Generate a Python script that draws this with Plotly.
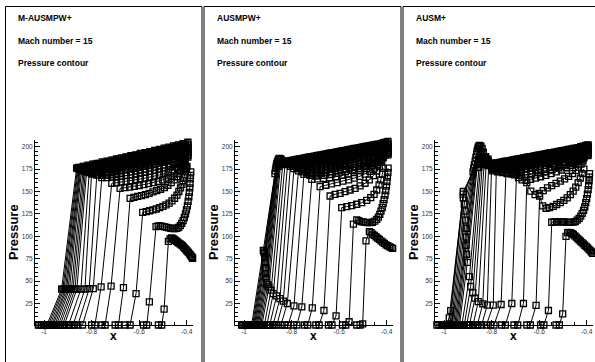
import plotly.graph_objects as go

# ---------------- data ----------------
# x stations of the post-shock band (two interleaved families of grid lines)
BAND_X = [-0.855, -0.835, -0.815, -0.795, -0.775, -0.755, -0.735, -0.715, -0.695, -0.675, -0.655, -0.635,
          -0.615, -0.595, -0.575, -0.555, -0.535, -0.515, -0.495, -0.475, -0.455, -0.435, -0.415, -0.395]
BAND_X2 = [-0.845, -0.825, -0.805, -0.785, -0.765, -0.745, -0.725, -0.705, -0.685, -0.665, -0.645, -0.625,
           -0.605, -0.585, -0.565, -0.545, -0.525, -0.505, -0.485, -0.465, -0.445, -0.425, -0.405]

# ---- M-AUSMPW+
MAUSMPW_HEAD_X = [
    [-1.024, -0.988, -0.926, -0.863], [-1.010, -0.975, -0.916, -0.856], [-0.996, -0.962, -0.905, -0.849],
    [-0.982, -0.948, -0.893, -0.842], [-0.966, -0.932, -0.878, -0.831], [-0.950, -0.915, -0.862, -0.821],
    [-0.932, -0.897, -0.845, -0.810], [-0.913, -0.878, -0.828, -0.800], [-0.893, -0.858, -0.810, -0.778],
    [-0.873, -0.838, -0.793, -0.757],
]
MAUSMPW_HEAD_P = [
    [1, 1, 41, 176], [1, 1, 41, 175.5], [1, 1, 41, 175], [1, 1, 41, 174], [1, 1, 41, 173],
    [1, 1, 41, 172], [1, 1, 41, 171], [1, 1, 41, 170], [1, 1, 41.5, 168.4], [1, 1, 41.5, 165.5],
]
MAUSMPW_BAND_P = [
    [177, 178, 179.5, 180.5, 181.5, 183, 184, 185, 186.5, 187.5, 188.5, 190, 191, 192.5, 193.5, 194.5, 196, 197, 198.5, 199.5, 201, 202, 203.5, 205],
    [176.5, 177.5, 178.5, 179.5, 181, 182, 183, 184.5, 185.5, 186.5, 188, 189, 190, 191.5, 192.5, 194, 195, 196.5, 197.5, 199, 200, 201.5, 203],
    [175.5, 176.5, 177.5, 178.5, 179.5, 180.5, 181.5, 183, 184, 185, 186, 187.5, 188.5, 189.5, 190.5, 192, 193, 194.5, 195.5, 197, 198, 199.5, 201],
    [174.5, 175, 176, 177, 178, 179, 180, 181, 182, 183, 184, 185, 186.5, 187.5, 188.5, 189.5, 191, 192, 193, 194.5, 196, 197.5, 199],
    [173.5, 174, 175, 175.5, 176.5, 177.5, 178.5, 179.5, 180.5, 181.5, 182.5, 184, 185, 186, 187, 188.5, 189.5, 191, 192.5, 194, 195.5, 197],
    [172, 172.5, 173, 173.5, 174.5, 175.5, 176.5, 177.5, 178.5, 179.5, 180.5, 181.5, 182.5, 183.5, 185, 186, 187, 188.5, 190, 191.5, 193, 195],
    [171, 171, 171.5, 172, 173, 174, 175, 176, 177, 178, 179, 180, 181, 182, 183.5, 184.5, 186, 187.5, 189, 191, 193.5],
    [169.5, 169.5, 170, 170.5, 171, 172, 173, 174, 175, 176, 177, 178, 179, 180, 181.5, 182.5, 184, 185.5, 187.5, 189.5, 192],
    [168, 168, 168.5, 169, 170, 171, 172, 173, 174, 175, 176, 177, 178.5, 179.5, 181, 182.5, 184.5, 187, 190.5],
    [165.5, 166, 166.5, 167, 168, 168.5, 169.5, 170.5, 171.5, 172.5, 173.5, 175, 176.5, 178, 180, 182, 184.5, 188.5],
]
MAUSMPW_MID_X = [
    [-1.017, -0.982, -0.921, -0.859], [-1.003, -0.968, -0.910, -0.852], [-0.989, -0.955, -0.899, -0.846],
    [-0.974, -0.940, -0.885, -0.836], [-0.958, -0.923, -0.870, -0.826],
]
MAUSMPW_MID_P = [[1, 1, 41, 176], [1, 1, 41, 175], [1, 1, 41, 174.5], [1, 1, 41, 173.5], [1, 1, 41, 172.5]]
MAUSMPW_MIDBAND_P = [
    [177, 178, 179, 180.5, 181.5, 182.5, 183.5, 185, 186, 187, 188.5, 189.5, 190.5, 192, 193, 194, 195.5, 196.5, 198, 199, 200.5, 201.5, 203],
    [176.5, 177.5, 178.5, 179.5, 180.5, 181.5, 182.5, 183.5, 185, 186, 187, 188, 189, 190, 191.5, 192.5, 193.5, 195, 196, 197.5, 199, 201],
    [175.5, 176, 177, 178, 179, 180, 181, 182, 183, 184, 185, 186, 187, 188, 189, 190, 191, 192.5, 193.5, 195, 197, 199],
    [174.5, 175, 176, 177, 178, 179, 180, 181, 182, 183, 184, 185, 186, 187, 188, 189, 190.5, 191.5, 193, 195, 197],
    [173, 173.5, 174.5, 175.5, 176.5, 177.5, 178.5, 179.5, 180.5, 181.5, 182.5, 183.5, 184.5, 185.5, 186.5, 187.5, 188.5, 190, 191.5, 193, 195],
]
MAUSMPW_TAIL_X = [
    [-0.800, -0.786, -0.760, -0.715, -0.695, -0.675, -0.655, -0.635, -0.615, -0.595, -0.575, -0.555, -0.535, -0.515, -0.496, -0.478, -0.461, -0.446, -0.433, -0.422, -0.413, -0.406],
    [-0.757, -0.743, -0.718, -0.680, -0.660, -0.640, -0.620, -0.600, -0.580, -0.560, -0.540, -0.520, -0.501, -0.483, -0.466, -0.451, -0.438, -0.427, -0.418, -0.410],
    [-0.701, -0.687, -0.666, -0.638, -0.622, -0.606, -0.590, -0.574, -0.558, -0.542, -0.526, -0.510, -0.494, -0.479, -0.465, -0.452, -0.441, -0.432, -0.424, -0.417, -0.411, -0.406],
    [-0.659, -0.638, -0.613, -0.585, -0.570, -0.556, -0.542, -0.528, -0.514, -0.500, -0.487, -0.474, -0.462, -0.451, -0.441, -0.433, -0.426, -0.420, -0.415, -0.411, -0.408, -0.405, -0.403, -0.401, -0.399],
    [-0.582, -0.568, -0.557, -0.529, -0.520, -0.511, -0.502, -0.493, -0.484, -0.475, -0.466, -0.457, -0.449, -0.441, -0.434, -0.427, -0.421, -0.415, -0.410, -0.405, -0.401, -0.397, -0.394, -0.391, -0.389, -0.387, -0.386, -0.385, -0.384, -0.383],
    [-0.519, -0.505, -0.495, -0.477, -0.470, -0.463, -0.458, -0.453, -0.448, -0.443, -0.438, -0.433, -0.428, -0.423, -0.418, -0.413, -0.408, -0.403, -0.398, -0.393, -0.388, -0.384, -0.380, -0.377, -0.375],
]
MAUSMPW_TAIL_P = [
    [1, 1, 43.6, 159.2, 159.8, 160.5, 161.2, 162, 163, 164, 165, 166, 167.2, 168.5, 170, 172, 174.5, 177.5, 180.5, 183.5, 186.5, 189],
    [1, 1, 44.3, 153.6, 154.3, 155, 155.8, 156.7, 157.7, 158.8, 160, 161.3, 163, 165, 167.5, 170.5, 174, 177.5, 181, 184],
    [1, 1, 42.8, 142.4, 143.5, 144.5, 145.5, 146.5, 148, 149.5, 151, 152.5, 154.5, 157, 160, 163, 166.5, 170, 173.5, 176.5, 179, 181],
    [1, 1, 36.1, 126.8, 127.5, 128.5, 129.5, 130.5, 132, 133.5, 135, 137, 139.5, 142.5, 146, 150, 154, 158, 162, 166, 169, 172, 174.5, 176.5, 178],
    [1, 1, 26.8, 110.9, 111.5, 111.5, 111, 110.5, 110, 109.5, 109, 108.5, 108.5, 109, 110, 112, 114.5, 117.5, 121, 125, 129.5, 134, 139, 144, 149, 154, 159, 164, 168, 172],
    [1, 1, 18.7, 94.4, 97, 98.1, 97.5, 96.5, 95.5, 94.5, 93.5, 92.5, 91.5, 90.5, 89.5, 88, 86.5, 85, 83.5, 82, 80.5, 79, 77.5, 76.5, 75.5],
]

# ---- AUSMPW+
AUSMPW_HEAD_X = [
    [-1.010, -0.968, -0.919, -0.870], [-1.000, -0.960, -0.914, -0.866], [-0.990, -0.952, -0.912, -0.862],
    [-0.980, -0.944, -0.909, -0.857], [-0.970, -0.935, -0.905, -0.851], [-0.960, -0.925, -0.895, -0.844],
    [-0.950, -0.915, -0.886, -0.836], [-0.940, -0.904, -0.877, -0.827], [-0.928, -0.892, -0.863, -0.817],
    [-0.914, -0.878, -0.849, -0.805], [-0.898, -0.862, -0.835, -0.790], [-0.880, -0.845, -0.818, -0.771],
]
AUSMPW_HEAD_P = [
    [1, 1, 84.4, 170], [1, 1, 80.7, 176], [1, 1, 71.4, 181], [1, 1, 58.4, 185], [1, 1, 48.4, 187],
    [1, 1, 43.6, 186], [1, 1, 39.9, 184], [1, 1, 36.1, 182], [1, 1, 33.5, 180], [1, 1, 30.5, 178],
    [1, 1, 27.6, 175.5], [1, 1, 25.0, 173],
]
AUSMPW_BAND_P = [
    [178, 182, 184, 185, 186, 187, 188, 189, 190, 191, 192, 193, 194, 195, 196, 197, 198, 199, 200, 201, 202, 203, 204.5, 206],
    [181, 182.5, 183.5, 184.5, 185.5, 186.5, 187.5, 188.5, 189.5, 190.5, 191.5, 192.5, 193.5, 194.5, 195.5, 196.5, 197.5, 198.5, 199.5, 200.5, 201.5, 202.5, 204],
    [182, 182, 182.5, 183.5, 184.5, 185.5, 186.5, 187.5, 188.5, 189.5, 190.5, 191.5, 192.5, 193.5, 194.5, 195.5, 196.5, 197.5, 198.5, 199.5, 200.5, 201.5, 202.5],
    [183, 181.5, 181, 181.5, 182.5, 183.5, 184.5, 185.5, 186.5, 187.5, 188.5, 189.5, 190.5, 191.5, 192.5, 193.5, 194.5, 195.5, 196.5, 197.5, 198.5, 199.5, 201],
    [183, 180.5, 180, 180.5, 181.5, 182.5, 183.5, 184.5, 185.5, 186.5, 187.5, 188.5, 189.5, 190.5, 191.5, 192.5, 193.5, 194.5, 195.5, 196.5, 197.5, 199],
    [184, 180, 178.5, 179, 180, 181, 182, 183, 184, 185, 186, 187, 188, 189, 190, 191, 192, 193, 194, 195, 196, 197.5],
    [181, 178, 177, 177.5, 178.5, 179.5, 180.5, 181.5, 182.5, 183.5, 184.5, 185.5, 186.5, 187.5, 188.5, 189.5, 190.5, 191.5, 192.5, 194, 196],
    [180, 177, 175.5, 175.5, 176.5, 177.5, 178.5, 179.5, 180.5, 181.5, 182.5, 183.5, 184.5, 185.5, 186.5, 187.5, 188.5, 189.5, 191, 193, 195],
    [176.5, 174.5, 174, 174.5, 175.5, 176.5, 177.5, 178.5, 179.5, 180.5, 181.5, 182.5, 183.5, 184.5, 185.5, 186.5, 188, 189.5, 191.5, 194],
    [175.5, 173, 172.5, 173, 174, 175, 176, 177, 178, 179, 180, 181, 182, 183, 184, 185, 186.5, 188, 190.5, 193],
    [172, 171, 171, 172, 173, 174, 175, 176, 177, 178, 179, 180, 181, 182, 183.5, 185, 187, 189.5, 192],
    [170.5, 169.5, 169.5, 170, 171, 172, 173, 174, 175, 176, 177, 178, 179.5, 181, 182.5, 184.5, 187.5, 191],
]
AUSMPW_MID_X = [
    [-1.005, -0.964, -0.916, -0.868], [-0.995, -0.956, -0.913, -0.864], [-0.985, -0.948, -0.910, -0.860],
    [-0.975, -0.940, -0.907, -0.854], [-0.965, -0.930, -0.900, -0.848],
]
AUSMPW_MID_P = [[1, 1, 82.5, 173], [1, 1, 76, 178.5], [1, 1, 65, 183], [1, 1, 53, 186], [1, 1, 46, 186.5]]
AUSMPW_MIDBAND_P = [
    [180, 183, 184.5, 185.5, 186.5, 187.5, 188.5, 189.5, 190.5, 191.5, 192.5, 193.5, 194.5, 195.5, 196.5, 197.5, 198.5, 199.5, 200.5, 201.5, 202.5, 203.5, 205],
    [182, 183, 184, 185, 186, 187, 188, 189, 190, 191, 192, 193, 194, 195, 196, 197, 198, 199, 200, 201, 202, 203],
    [182, 181.5, 182, 183, 184, 185, 186, 187, 188, 189, 190, 191, 192, 193, 194, 195, 196, 197, 198, 199, 200, 201.5],
    [181, 180.5, 181, 182, 183, 184, 185, 186, 187, 188, 189, 190, 191, 192, 193, 194, 195, 196, 197, 198, 200],
    [180, 179, 179.5, 180.5, 181.5, 182.5, 183.5, 184.5, 185.5, 186.5, 187.5, 188.5, 189.5, 190.5, 191.5, 192.5, 193.5, 194.5, 195.5, 196.5, 198],
]
AUSMPW_TAIL_X = [
    [-0.829, -0.815, -0.790, -0.748, -0.722, -0.694, -0.664, -0.634, -0.604, -0.574, -0.544, -0.514, -0.485, -0.459, -0.437, -0.420, -0.408],
    [-0.792, -0.778, -0.757, -0.715, -0.691, -0.666, -0.640, -0.614, -0.588, -0.562, -0.536, -0.510, -0.485, -0.462, -0.443, -0.428, -0.416],
    [-0.746, -0.732, -0.713, -0.680, -0.656, -0.632, -0.608, -0.584, -0.560, -0.536, -0.513, -0.491, -0.471, -0.453, -0.438, -0.426, -0.416],
    [-0.698, -0.684, -0.664, -0.638, -0.617, -0.596, -0.575, -0.554, -0.533, -0.512, -0.491, -0.473, -0.456, -0.442, -0.431, -0.421],
    [-0.645, -0.630, -0.613, -0.589, -0.568, -0.547, -0.526, -0.505, -0.484, -0.467, -0.453, -0.442, -0.432, -0.425, -0.418, -0.414],
    [-0.586, -0.572, -0.558, -0.540, -0.526, -0.517, -0.508, -0.499, -0.490, -0.480, -0.470, -0.460, -0.450, -0.442, -0.435, -0.429, -0.424, -0.419, -0.415, -0.411, -0.407, -0.404, -0.401, -0.399, -0.397, -0.395, -0.394],
    [-0.526, -0.512, -0.501, -0.487, -0.473, -0.466, -0.459, -0.452, -0.445, -0.438, -0.431, -0.424, -0.417, -0.410, -0.403, -0.396, -0.389, -0.382, -0.375],
]
AUSMPW_TAIL_P = [
    [1, 1, 22.4, 169.2, 168, 167.5, 168, 169, 170.5, 172, 173.5, 175.5, 178, 181, 184.5, 188, 190.5],
    [1, 1, 21.3, 163.6, 164, 164.5, 165.5, 166.5, 168, 169.5, 171, 173, 175.5, 178.5, 182, 185.5, 189],
    [1, 1, 20.1, 155.4, 157, 158.5, 160, 161.5, 163, 165, 167, 169.5, 172.5, 176, 180, 184, 188],
    [1, 1, 17.2, 145, 146.9, 148, 149.9, 151.7, 153.6, 156.2, 159.2, 162.9, 167.7, 172.9, 177.7, 182.5],
    [1, 1, 11.2, 132, 133.2, 134.3, 135.8, 137.6, 140.2, 143.2, 146.9, 151.7, 157.3, 162.9, 169.2, 175.9],
    [1, 1, 4.6, 113.5, 118.3, 117.5, 116.5, 116, 115.5, 115.3, 115.3, 115.7, 117, 119, 121.5, 124.5, 128, 132, 136.5, 141, 146, 151, 156, 161, 166, 171, 176],
    [1, 1, 2.3, 94.8, 105.2, 104, 102.5, 101, 99.5, 98, 96.5, 95, 93.5, 92, 90.5, 89.5, 88.5, 87.5, 86.5],
]

# ---- AUSM+
AUSM_HEAD_X = [
    [-1.030, -0.990, -0.978, -0.972, -0.919, -0.878], [-1.012, -0.975, -0.919, -0.872], [-1.002, -0.965, -0.912, -0.866],
    [-0.992, -0.955, -0.907, -0.861], [-0.982, -0.945, -0.907, -0.856], [-0.972, -0.935, -0.902, -0.851],
    [-0.962, -0.925, -0.893, -0.845], [-0.952, -0.915, -0.888, -0.840], [-0.942, -0.905, -0.879, -0.835],
    [-0.930, -0.893, -0.870, -0.829], [-0.915, -0.878, -0.856, -0.822], [-0.897, -0.860, -0.837, -0.812],
    [-0.878, -0.842, -0.818, -0.800], [-0.858, -0.822, -0.793, -0.780],
]
AUSM_HEAD_P = [
    [1, 1, 9, 17, 150, 172], [1, 1, 143, 180], [1, 1, 128, 188], [1, 1, 109, 195], [1, 1, 90, 199.5],
    [1, 1, 71, 201.5], [1, 1, 55, 200.5], [1, 1, 44, 198], [1, 1, 37, 194], [1, 1, 31, 189],
    [1, 1, 27, 184], [1, 1, 24.6, 180], [1, 1, 23.1, 177], [1, 1, 23.1, 176],
]
AUSM_BAND_P = [
    [177, 180, 181, 181.5, 182, 183, 184, 185, 186, 187, 188, 189, 190, 191, 192, 193, 194, 195, 196, 197, 198, 199, 200.5, 202],
    [181, 181.5, 181, 181, 181.5, 182.5, 183.5, 184.5, 185.5, 186.5, 187.5, 188.5, 189.5, 190.5, 191.5, 192.5, 193.5, 194.5, 195.5, 196.5, 197.5, 198.5, 200, 201.5],
    [186, 182.5, 180.5, 180.5, 181, 182, 183, 184, 185, 186, 187, 188, 189, 190, 191, 192, 193, 194, 195, 196, 197, 198, 199.5, 201],
    [186, 181, 180, 180.5, 181.5, 182.5, 183.5, 184.5, 185.5, 186.5, 187.5, 188.5, 189.5, 190.5, 191.5, 192.5, 193.5, 194.5, 195.5, 196.5, 197.5, 199, 200.5],
    [189, 182, 179.5, 179.5, 180.5, 181.5, 182.5, 183.5, 184.5, 185.5, 186.5, 187.5, 188.5, 189.5, 190.5, 191.5, 192.5, 193.5, 194.5, 195.5, 196.5, 198, 199.5],
    [193, 184, 179.5, 178.5, 179, 180, 181, 182, 183, 184, 185, 186, 187, 188, 189, 190, 191, 192, 193, 194, 195, 196.5, 198],
    [186, 179.5, 178, 178, 179, 180, 181, 182, 183, 184, 185, 186, 187, 188, 189, 190, 191, 192, 193, 194, 195.5, 197],
    [184, 178.5, 177, 177, 178, 179, 180, 181, 182, 183, 184, 185, 186, 187, 188, 189, 190, 191, 192, 193, 194.5, 196],
    [181, 177, 176, 176, 177, 178, 179, 180, 181, 182, 183, 184, 185, 186, 187, 188, 189, 190, 191, 192, 193.5, 195],
    [179, 175.5, 175, 175, 176, 177, 178, 179, 180, 181, 182, 183, 184, 185, 186, 187, 188, 189, 190, 191, 192.5, 194],
    [174.5, 174, 174, 175, 176, 177, 178, 179, 180, 181, 182, 183, 184, 185, 186, 187, 188, 189, 190, 191.5, 193],
    [173, 172.5, 172.5, 173.5, 174.5, 175.5, 176.5, 177.5, 178.5, 179.5, 180.5, 181.5, 182.5, 183.5, 184.5, 185.5, 186.5, 187.5, 188.5, 190, 192],
    [172, 171, 171, 172, 173, 174, 175, 176, 177, 178, 179, 180, 181, 182, 183, 184, 185, 186.5, 188.5, 191],
    [172, 170, 169.5, 170, 171, 172, 173, 174, 175, 176, 177, 178, 179, 180, 181, 182.5, 184, 186.5, 190],
]
AUSM_MID_X = [
    [-1.021, -0.982, -0.919, -0.875], [-1.007, -0.970, -0.915, -0.869], [-0.997, -0.960, -0.910, -0.863],
    [-0.987, -0.950, -0.907, -0.858], [-0.977, -0.940, -0.905, -0.853],
]
AUSM_MID_P = [[1, 1, 147, 176], [1, 1, 136, 184], [1, 1, 118, 191.5], [1, 1, 99, 197.5], [1, 1, 80, 200.5]]
AUSM_MIDBAND_P = [
    [180.5, 181, 181, 181.5, 182.5, 183.5, 184.5, 185.5, 186.5, 187.5, 188.5, 189.5, 190.5, 191.5, 192.5, 193.5, 194.5, 195.5, 196.5, 197.5, 198.5, 200, 201.5],
    [184, 181.5, 180.5, 181, 181.5, 182.5, 183.5, 184.5, 185.5, 186.5, 187.5, 188.5, 189.5, 190.5, 191.5, 192.5, 193.5, 194.5, 195.5, 196.5, 197.5, 199, 200.5],
    [184, 181, 180, 180.5, 181.5, 182.5, 183.5, 184.5, 185.5, 186.5, 187.5, 188.5, 189.5, 190.5, 191.5, 192.5, 193.5, 194.5, 195.5, 196.5, 198, 199.5],
    [186, 180.5, 179.5, 180, 181, 182, 183, 184, 185, 186, 187, 188, 189, 190, 191, 192, 193, 194, 195, 196, 197.5, 199],
    [189, 182, 179, 179, 180, 181, 182, 183, 184, 185, 186, 187, 188, 189, 190, 191, 192, 193, 194, 195, 196.5, 198],
]
AUSM_TAIL_X = [
    [-0.804, -0.790, -0.760, -0.739, -0.722, -0.703, -0.682, -0.658, -0.632, -0.604, -0.575, -0.546, -0.517, -0.489, -0.463, -0.441, -0.424, -0.412],
    [-0.758, -0.742, -0.715, -0.695, -0.687, -0.672, -0.655, -0.636, -0.615, -0.594, -0.572, -0.550, -0.528, -0.506, -0.485, -0.465, -0.447, -0.432, -0.420, -0.411],
    [-0.706, -0.690, -0.666, -0.652, -0.635, -0.617, -0.600, -0.583, -0.565, -0.547, -0.529, -0.511, -0.493, -0.476, -0.460, -0.446, -0.434, -0.424, -0.416],
    [-0.652, -0.637, -0.613, -0.598, -0.585, -0.571, -0.556, -0.541, -0.526, -0.511, -0.496, -0.482, -0.469, -0.457, -0.446, -0.436, -0.427, -0.419, -0.412],
    [-0.594, -0.580, -0.561, -0.547, -0.537, -0.527, -0.517, -0.507, -0.497, -0.487, -0.477, -0.467, -0.457, -0.448, -0.440, -0.432, -0.425, -0.419, -0.413, -0.408, -0.404, -0.400, -0.397, -0.394, -0.392, -0.390, -0.389, -0.388],
    [-0.529, -0.515, -0.501, -0.487, -0.480, -0.474, -0.468, -0.462, -0.456, -0.450, -0.444, -0.438, -0.432, -0.426, -0.420, -0.414, -0.408, -0.402, -0.396, -0.390, -0.385, -0.380, -0.375],
]
AUSM_TAIL_P = [
    [1, 1, 23.9, 175, 170.5, 168.5, 168, 168.5, 169.5, 171, 172.5, 174.5, 176.5, 179, 181.5, 184, 186.5, 188.5],
    [1, 1, 25, 170, 165.5, 163, 162.5, 163.5, 165, 166.5, 168, 170, 172, 174, 176.5, 179, 181.5, 184, 186.5, 188.5],
    [1, 1, 25, 160, 150.5, 146.5, 148, 151, 154, 156.5, 159, 161.5, 164, 167, 170, 173.5, 177, 180.5, 184],
    [1, 1, 22.8, 145, 134, 131.3, 132, 133.5, 135.5, 137.5, 140, 143, 146.5, 150.5, 155, 160, 165, 170, 175],
    [1, 1, 17.2, 115.7, 116, 116, 116, 116, 116, 115.8, 115.5, 115.5, 115.8, 116.5, 118, 120, 122.5, 125.5, 129, 133, 137.5, 142, 147, 152, 157, 162, 166, 170],
    [1, 1, 13.5, 100, 104, 104.5, 104, 103, 102, 100.5, 99, 97.5, 96, 94.5, 93, 91.5, 90, 88.5, 87, 85.5, 84, 82.5, 81],
]

SCHEMES = ["M-AUSMPW+", "AUSMPW+", "AUSM+"]
SUBTITLE_1 = "Mach number = 15"
SUBTITLE_2 = "Pressure contour"
X_TICKS = [-1, -0.8, -0.6, -0.4]
X_TICKTEXT = ["-1", "-0.8", "-0.6", "-0.4"]
X_MINOR = [-1.0, -0.95, -0.9, -0.85, -0.8, -0.75, -0.7, -0.65, -0.6, -0.55, -0.5, -0.45, -0.4]
Y_TICKS = [25, 50, 75, 100, 125, 150, 175, 200]
Y_MINOR = [5, 10, 15, 20, 30, 35, 40, 45, 55, 60, 65, 70, 80, 85, 90, 95, 105, 110, 115, 120,
           130, 135, 140, 145, 155, 160, 165, 170, 180, 185, 190, 195, 205]


def join(head_x, head_p, band_p, grid):
    return [(hx + grid[len(grid) - len(bp):], hp + bp) for hx, hp, bp in zip(head_x, head_p, band_p)]


def build_lines(head_x, head_p, band_p, mid_x, mid_p, midband_p, tail_x, tail_p):
    lines = join(head_x, head_p, band_p, BAND_X)
    lines += join(mid_x, mid_p, midband_p, BAND_X2)
    lines += list(zip(tail_x, tail_p))
    return lines


panels = [
    build_lines(MAUSMPW_HEAD_X, MAUSMPW_HEAD_P, MAUSMPW_BAND_P, MAUSMPW_MID_X, MAUSMPW_MID_P, MAUSMPW_MIDBAND_P,
                MAUSMPW_TAIL_X, MAUSMPW_TAIL_P),
    build_lines(AUSMPW_HEAD_X, AUSMPW_HEAD_P, AUSMPW_BAND_P, AUSMPW_MID_X, AUSMPW_MID_P, AUSMPW_MIDBAND_P,
                AUSMPW_TAIL_X, AUSMPW_TAIL_P),
    build_lines(AUSM_HEAD_X, AUSM_HEAD_P, AUSM_BAND_P, AUSM_MID_X, AUSM_MID_P, AUSM_MIDBAND_P,
                AUSM_TAIL_X, AUSM_TAIL_P),
]

# ---------------- figure ----------------
W, H = 595, 362
FONT = "Liberation Sans, Arial, Helvetica, sans-serif"
fig = go.Figure()

plot_left = [35, 235, 435]
plot_w = 158
frame_left = [5.5, 204, 403]
frame_right = [202, 401, 600]

layout = dict(width=W, height=H, margin=dict(l=0, r=0, t=0, b=0),
              paper_bgcolor="white", plot_bgcolor="white", showlegend=False,
              font=dict(family=FONT, color="black"))
annotations, shapes = [], []
for i, lines in enumerate(panels):
    sfx = "" if i == 0 else str(i + 1)
    for xs, ps in lines:
        fig.add_trace(go.Scatter(
            x=xs, y=ps, mode="lines+markers", xaxis="x" + sfx, yaxis="y" + sfx,
            line=dict(color="black", width=1),
            marker=dict(symbol="square-open", size=6, color="black", line=dict(width=1.3, color="black")),
            cliponaxis=False, hoverinfo="skip"))
    x0 = plot_left[i] / W
    x1 = (plot_left[i] + plot_w) / W
    layout["xaxis" + sfx] = dict(
        domain=[x0, x1], range=[-1.038, -0.3735], anchor="y" + sfx,
        showline=True, linecolor="black", linewidth=1, showgrid=False, zeroline=False,
        ticks="inside", ticklen=5, tickwidth=1, tickcolor="black",
        tickmode="array", tickvals=X_TICKS, ticktext=X_TICKTEXT,
        tickfont=dict(size=6.5, color="#333333", family=FONT),
        minor=dict(tickmode="array", tickvals=X_MINOR, ticks="inside", ticklen=3,
                   tickcolor="black", tickwidth=1, showgrid=False),
        fixedrange=True)
    layout["yaxis" + sfx] = dict(
        domain=[1 - 325 / H, 1 - 140 / H], range=[1, 207.5], anchor="x" + sfx,
        showline=True, linecolor="black", linewidth=1, showgrid=False, zeroline=False,
        ticks="inside", ticklen=5, tickwidth=1, tickcolor="black",
        tickmode="array", tickvals=Y_TICKS,
        tickfont=dict(size=6.5, color="#333333", family=FONT),
        minor=dict(tickmode="array", tickvals=Y_MINOR, ticks="inside", ticklen=3,
                   tickcolor="black", tickwidth=1, showgrid=False),
        fixedrange=True)
    shapes.append(dict(type="rect", xref="paper", yref="paper",
                       x0=frame_left[i] / W, x1=frame_right[i] / W, y0=-0.05, y1=1 - 6.5 / H,
                       line=dict(color="black", width=1), fillcolor="rgba(0,0,0,0)", layer="below"))
    tx = (frame_left[i] + 10.5) / W
    for txt, yc in [(SCHEMES[i], 18.5), (SUBTITLE_1, 40.8), (SUBTITLE_2, 63)]:
        annotations.append(dict(text="<b>" + txt + "</b>", xref="paper", yref="paper",
                                x=tx, y=1 - yc / H, xanchor="left", yanchor="middle",
                                showarrow=False, font=dict(size=8.5, family=FONT, color="black")))
    annotations.append(dict(text="<b>x</b>", xref="paper", yref="paper",
                            x=(plot_left[i] + 78.5) / W, y=1 - 336 / H, xanchor="center", yanchor="middle",
                            showarrow=False, font=dict(size=12, family=FONT, color="black")))
    annotations.append(dict(text="<b>Pressure</b>", xref="paper", yref="paper", textangle=-90,
                            x=(plot_left[i] - 22) / W, y=1 - 232 / H, xanchor="center", yanchor="middle",
                            showarrow=False, font=dict(size=13, family=FONT, color="black")))

layout["annotations"] = annotations
layout["shapes"] = shapes
fig.update_layout(**layout)
fig.write_html("out.html")
